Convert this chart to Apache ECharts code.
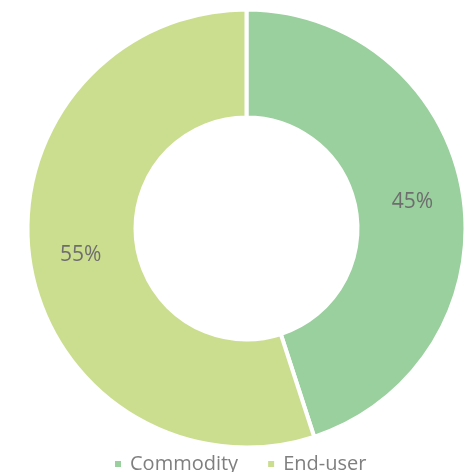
<!DOCTYPE html>
<html>
<head>
<meta charset="utf-8">
<style>
  html, body { margin: 0; padding: 0; background: #ffffff; }
  #chart { width: 473px; height: 472px; }
</style>
<script src="https://cdn.jsdelivr.net/npm/echarts@6/dist/echarts.min.js"></script>
</head>
<body>
<div id="chart"></div>
<script>
// Share of volume by segment
const categories = ['Commodity', 'End-user'];
const shares = [45, 55];
const colors = ['#9ACF9E', '#CBDE90'];

const chart = echarts.init(document.getElementById('chart'), null, { renderer: 'canvas' });

chart.setOption({
  animation: false,
  color: colors,
  legend: {
    data: categories,
    left: 108,
    top: 449,
    icon: 'rect',
    itemWidth: 8,
    itemHeight: 8,
    itemGap: 28,
    textStyle: {
      fontFamily: 'Open Sans',
      fontSize: 20,
      color: '#7f7f7f',
      padding: [0, 0, 0, 3]
    }
  },
  series: [{
    type: 'pie',
    center: [246.5, 228.5],
    radius: [111, 219],
    startAngle: 90,
    clockwise: true,
    itemStyle: { borderColor: '#ffffff', borderWidth: 4 },
    label: {
      show: true,
      position: 'inside',
      formatter: '{d}%',
      fontFamily: 'Open Sans',
      fontSize: 21,
      color: '#6e6e6e'
    },
    labelLine: { show: false },
    emphasis: { disabled: true },
    data: categories.map((name, i) => ({ name, value: shares[i] }))
  }]
});
</script>
</body>
</html>
